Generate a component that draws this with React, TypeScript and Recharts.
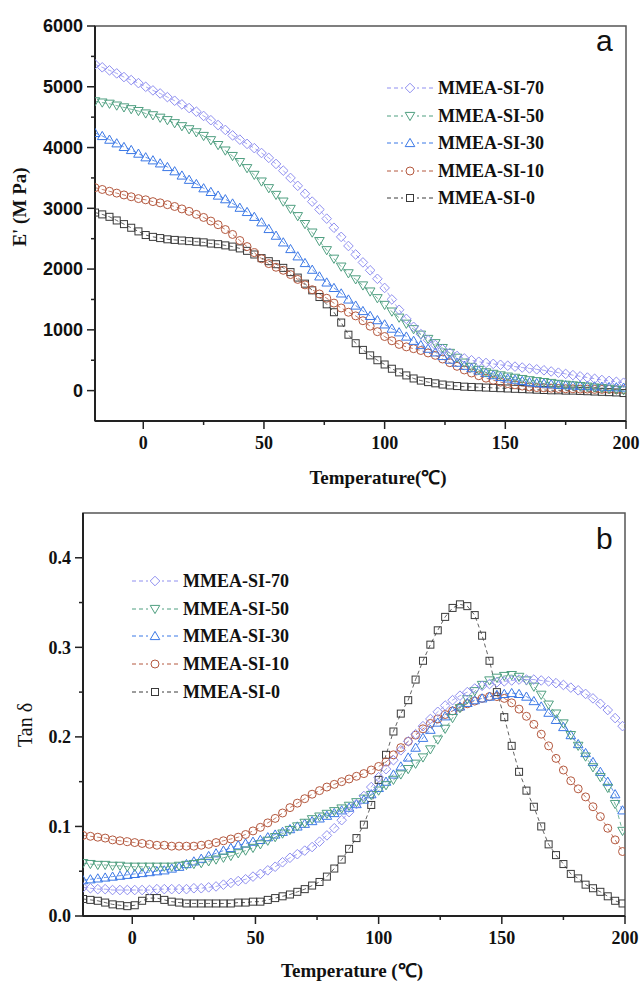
import React from "react";
import { LineChart, Line, XAxis, YAxis, ReferenceArea } from "recharts";

// temperature (°C), shared by both panels
const temps = [
  -20, -17, -14, -11, -8, -5, -2, 1, 4, 7,
  10, 13, 16, 19, 22, 25, 28, 31, 34, 37,
  40, 43, 46, 49, 52, 55, 58, 61, 64, 67,
  70, 73, 76, 79, 82, 85, 88, 91, 94, 97,
  100, 103, 106, 109, 112, 115, 118, 121, 124, 127,
  130, 133, 136, 139, 142, 145, 148, 151, 154, 157,
  160, 163, 166, 169, 172, 175, 178, 181, 184, 187,
  190, 193, 196, 199,
];

// panel a: storage modulus E' (MPa)
const modulus70 = [
  5370, 5320, 5270, 5220, 5160, 5110, 5060, 5000, 4940, 4890,
  4830, 4770, 4710, 4650, 4590, 4520, 4450, 4370, 4290, 4200,
  4130, 4060, 3990, 3910, 3830, 3730, 3620, 3500, 3370, 3240,
  3110, 2980, 2830, 2680, 2530, 2380, 2240, 2110, 1980, 1840,
  1690, 1500, 1330, 1180, 1050, 930, 830, 750, 680, 620,
  570, 530, 500, 475, 455, 440, 425, 410, 395, 380,
  365, 350, 335, 315, 295, 275, 255, 235, 215, 195,
  175, 160, 145, 130,
];
const modulus50 = [
  4760, 4740, 4720, 4690, 4660, 4630, 4600, 4560, 4530, 4490,
  4450, 4400, 4350, 4300, 4250, 4190, 4120, 4040, 3950, 3860,
  3760, 3660, 3550, 3440, 3330, 3220, 3110, 2990, 2870, 2740,
  2600, 2460, 2310, 2170, 2040, 1930, 1830, 1730, 1630, 1520,
  1410, 1300, 1200, 1100, 1010, 920, 850, 780, 700, 620,
  540, 460, 390, 340, 300, 275, 250, 230, 210, 190,
  170, 155, 140, 125, 110, 95, 85, 75, 65, 50,
  40, 30, 15, 5,
];
const modulus30 = [
  4240, 4190, 4130, 4070, 4010, 3960, 3900, 3840, 3790, 3740,
  3680, 3610, 3540, 3470, 3400, 3330, 3270, 3210, 3150, 3080,
  3010, 2940, 2860, 2770, 2660, 2550, 2440, 2330, 2210, 2100,
  1990, 1880, 1780, 1690, 1600, 1500, 1400, 1310, 1230, 1160,
  1090, 1020, 960, 890, 820, 750, 690, 630, 570, 510,
  460, 410, 370, 330, 290, 255, 225, 200, 180, 160,
  140, 125, 115, 105, 95, 90, 85, 80, 75, 70,
  65, 60, 55, 50,
];
const modulus10 = [
  3340, 3310, 3280, 3250, 3220, 3190, 3160, 3140, 3110, 3090,
  3060, 3030, 2990, 2950, 2900, 2850, 2790, 2730, 2650, 2570,
  2470, 2370, 2270, 2170, 2090, 2030, 1980, 1910, 1830, 1740,
  1660, 1590, 1520, 1440, 1360, 1290, 1230, 1150, 1060, 970,
  890, 820, 760, 720, 690, 660, 620, 580, 520, 460,
  400, 340, 290, 245, 205, 170, 140, 115, 95, 75,
  60, 50, 45, 40, 35, 30, 30, 25, 25, 20,
  20, 20, 15, 15,
];
const modulus0 = [
  2930, 2900, 2860, 2800, 2740, 2680, 2620, 2560, 2530, 2510,
  2490, 2480, 2470, 2460, 2450, 2440, 2420, 2410, 2390, 2370,
  2340, 2300, 2240, 2180, 2130, 2080, 2020, 1950, 1860, 1760,
  1650, 1540, 1420, 1290, 1120, 920, 780, 670, 580, 500,
  430, 360, 300, 250, 200, 165, 140, 120, 100, 85,
  75, 65, 60, 55, 50, 45, 40, 35, 30, 25,
  20, 15, 10, 5, 5, 0, 0, -5, -10, -15,
  -20, -25, -30, -40,
];

// panel b: tan delta
const tan70 = [
  0.032, 0.031, 0.030, 0.030, 0.029, 0.029, 0.029, 0.029, 0.029, 0.029,
  0.030, 0.030, 0.030, 0.030, 0.030, 0.031, 0.031, 0.032, 0.033, 0.035,
  0.037, 0.039, 0.041, 0.044, 0.047, 0.051, 0.055, 0.060, 0.065, 0.069,
  0.073, 0.077, 0.083, 0.090, 0.098, 0.107, 0.116, 0.125, 0.134, 0.144,
  0.155, 0.164, 0.174, 0.185, 0.195, 0.203, 0.212, 0.220, 0.228, 0.235,
  0.241, 0.246, 0.250, 0.254, 0.257, 0.259, 0.261, 0.262, 0.263, 0.264,
  0.264, 0.264, 0.263, 0.262, 0.260, 0.258, 0.255, 0.252, 0.248, 0.243,
  0.237, 0.230, 0.221, 0.212,
];
const tan50 = [
  0.059, 0.058, 0.057, 0.057, 0.056, 0.056, 0.055, 0.055, 0.055, 0.055,
  0.055, 0.055, 0.055, 0.056, 0.057, 0.058, 0.059, 0.061, 0.063, 0.065,
  0.067, 0.070, 0.073, 0.076, 0.080, 0.084, 0.088, 0.092, 0.096, 0.100,
  0.104, 0.108, 0.111, 0.114, 0.117, 0.120, 0.123, 0.127, 0.131, 0.135,
  0.140, 0.146, 0.152, 0.158, 0.164, 0.170, 0.177, 0.186, 0.197, 0.209,
  0.221, 0.232, 0.242, 0.251, 0.258, 0.263, 0.266, 0.268, 0.269, 0.267,
  0.263, 0.256, 0.247, 0.236, 0.226, 0.215, 0.202, 0.190, 0.178, 0.166,
  0.155, 0.143, 0.125, 0.095,
];
const tan30 = [
  0.040, 0.041, 0.042, 0.043, 0.044, 0.045, 0.046, 0.047, 0.048, 0.049,
  0.050, 0.051, 0.053, 0.055, 0.058, 0.061, 0.064, 0.067, 0.070, 0.073,
  0.076, 0.079, 0.081, 0.083, 0.085, 0.088, 0.091, 0.094, 0.097, 0.100,
  0.103, 0.106, 0.109, 0.112, 0.115, 0.118, 0.121, 0.125, 0.130, 0.136,
  0.143, 0.150, 0.158, 0.167, 0.177, 0.188, 0.199, 0.208, 0.216, 0.223,
  0.229, 0.234, 0.238, 0.241, 0.243, 0.245, 0.247, 0.248, 0.249, 0.248,
  0.245, 0.240, 0.234, 0.227, 0.219, 0.211, 0.202, 0.192, 0.182, 0.172,
  0.161, 0.150, 0.136, 0.118,
];
const tan10 = [
  0.090, 0.089, 0.088, 0.087, 0.085, 0.084, 0.083, 0.082, 0.081, 0.080,
  0.079, 0.079, 0.078, 0.078, 0.078, 0.078, 0.079, 0.080, 0.082, 0.084,
  0.086, 0.088, 0.091, 0.095, 0.099, 0.104, 0.109, 0.115, 0.121, 0.126,
  0.131, 0.136, 0.140, 0.144, 0.147, 0.150, 0.153, 0.156, 0.159, 0.163,
  0.167, 0.172, 0.180, 0.188, 0.195, 0.202, 0.209, 0.215, 0.220, 0.225,
  0.229, 0.233, 0.237, 0.240, 0.243, 0.245, 0.245, 0.243, 0.238, 0.231,
  0.223, 0.214, 0.203, 0.190, 0.176, 0.163, 0.151, 0.142, 0.133, 0.122,
  0.111, 0.098, 0.085, 0.072,
];
const tan0 = [
  0.019, 0.018, 0.017, 0.015, 0.013, 0.012, 0.011, 0.012, 0.017, 0.020,
  0.020, 0.018, 0.016, 0.015, 0.014, 0.014, 0.014, 0.014, 0.014, 0.014,
  0.014, 0.015, 0.015, 0.016, 0.016, 0.018, 0.020, 0.022, 0.024, 0.027,
  0.030, 0.034, 0.038, 0.044, 0.053, 0.063, 0.075, 0.087, 0.102, 0.124,
  0.152, 0.180, 0.206, 0.226, 0.241, 0.264, 0.285, 0.303, 0.319, 0.334,
  0.344, 0.348, 0.346, 0.336, 0.313, 0.285, 0.250, 0.222, 0.190, 0.161,
  0.140, 0.122, 0.100, 0.080, 0.068, 0.058, 0.047, 0.042, 0.035, 0.031,
  0.027, 0.022, 0.017, 0.014,
];

const xTicks = [0, 25, 50, 75, 100, 125, 150, 175, 200];
const yTicksA = [0, 500, 1000, 1500, 2000, 2500, 3000, 3500, 4000, 4500, 5000, 5500, 6000];
const yTicksB = [0, 0.05, 0.1, 0.15, 0.2, 0.25, 0.3, 0.35, 0.4];

const seriesNames = ["MMEA-SI-70", "MMEA-SI-50", "MMEA-SI-30", "MMEA-SI-10", "MMEA-SI-0"];

const series = [
  { key: "s70", name: seriesNames[0], color: "#8f8ff0", shape: "diamond" },
  { key: "s50", name: seriesNames[1], color: "#4f9f80", shape: "down" },
  { key: "s30", name: seriesNames[2], color: "#3b78e6", shape: "up" },
  { key: "s10", name: seriesNames[3], color: "#b4583e", shape: "circle" },
  { key: "s0", name: seriesNames[4], color: "#3a3a3a", shape: "square" },
];

const dataA = temps.map((t, i) => ({
  t, s70: modulus70[i], s50: modulus50[i], s30: modulus30[i], s10: modulus10[i], s0: modulus0[i],
}));
const dataB = temps.map((t, i) => ({
  t, s70: tan70[i], s50: tan50[i], s30: tan30[i], s10: tan10[i], s0: tan0[i],
}));

const SERIF = "'Liberation Serif', 'Times New Roman', serif";
const SANS = "'Liberation Sans', Arial, sans-serif";

function marker(shape: string, cx: number, cy: number, color: string) {
  const common = { fill: "none", stroke: color, strokeWidth: 1 };
  if (shape === "diamond")
    return <path d={`M${cx},${cy - 4.8}L${cx + 4.8},${cy}L${cx},${cy + 4.8}L${cx - 4.8},${cy}Z`} {...common} />;
  if (shape === "up")
    return <path d={`M${cx},${cy - 4.6}L${cx + 4.8},${cy + 3.6}L${cx - 4.8},${cy + 3.6}Z`} {...common} />;
  if (shape === "down")
    return <path d={`M${cx},${cy + 4.6}L${cx + 4.8},${cy - 3.6}L${cx - 4.8},${cy - 3.6}Z`} {...common} />;
  if (shape === "circle") return <circle cx={cx} cy={cy} r={4} {...common} />;
  return <rect x={cx - 3.5} y={cy - 3.5} width={7} height={7} {...common} />;
}

const makeDot = (shape: string, color: string) => (p: any) => {
  if (p.cx == null || p.cy == null) return <g key={p.key} />;
  return <g key={p.key}>{marker(shape, p.cx, p.cy, color)}</g>;
};

function YTick(props: any) {
  const { x, y, payload, major, fmt, font } = props;
  const v = payload.value;
  const isMajor = major(v);
  return (
    <g>
      <line x1={x} x2={x - (isMajor ? 8 : 4)} y1={y} y2={y} stroke="#222" strokeWidth={1.5} />
      {isMajor && (
        <text x={x - 12} y={y} dy="0.35em" textAnchor="end" fontFamily={font} fontWeight="bold" fontSize={18} fill="#111">
          {fmt(v)}
        </text>
      )}
    </g>
  );
}

function XTick(props: any) {
  const { x, y, payload } = props;
  const v = payload.value;
  const isMajor = v % 50 === 0;
  return (
    <g>
      <line x1={x} x2={x} y1={y} y2={y + (isMajor ? 8 : 4)} stroke="#222" strokeWidth={1.5} />
      {isMajor && (
        <text x={x} y={y + 22} dy="0.35em" textAnchor="middle" fontFamily={SERIF} fontWeight="bold" fontSize={18} fill="#111">
          {v}
        </text>
      )}
    </g>
  );
}

function LegendBox({ left, top, gap }: { left: number; top: number; gap: number }) {
  return (
    <div style={{ position: "absolute", left, top }}>
      {series.map((s, i) => (
        <div key={s.key} style={{ position: "absolute", top: i * gap, left: 0, display: "flex", alignItems: "center", whiteSpace: "nowrap" }}>
          <svg width={48} height={14} style={{ marginRight: 4 }}>
            <line x1={1} x2={47} y1={7} y2={7} stroke={s.color} strokeWidth={1} strokeDasharray="4 3" />
            <rect x={17} y={1} width={14} height={12} fill="#fff" />
            {marker(s.shape, 24, 7, s.color)}
          </svg>
          <span style={{ fontFamily: SERIF, fontWeight: "bold", fontSize: 18, color: "#111", lineHeight: "14px" }}>{s.name}</span>
        </div>
      ))}
    </div>
  );
}

function Panel({ data, yDomain, yTicks, major, fmt, yFont, yWidth, marginTop, xHeight, rightMargin }: any) {
  return (
    <LineChart width={642} height={492} data={data} margin={{ top: marginTop, right: rightMargin, left: 0, bottom: 0 }}>
      <ReferenceArea x1={-20} x2={200} y1={yDomain[0]} y2={yDomain[1]} fill="none" stroke="#555" strokeWidth={1.5} ifOverflow="visible" />
      <XAxis
        type="number"
        dataKey="t"
        domain={[-20, 200]}
        ticks={xTicks}
        interval={0}
        allowDataOverflow
        height={xHeight}
        tickSize={0}
        tickMargin={0}
        tickLine={false}
        axisLine={{ stroke: "#222", strokeWidth: 2 }}
        tick={(p: any) => <XTick {...p} />}
      />
      <YAxis
        type="number"
        domain={yDomain}
        ticks={yTicks}
        interval={0}
        allowDataOverflow
        width={yWidth}
        tickSize={0}
        tickMargin={0}
        tickLine={false}
        axisLine={{ stroke: "#222", strokeWidth: 2 }}
        tick={(p: any) => <YTick {...p} major={major} fmt={fmt} font={yFont} />}
      />
      {series.slice().reverse().map((s) => (
        <Line
          key={s.key}
          type="linear"
          dataKey={s.key}
          name={s.name}
          stroke={s.color}
          strokeWidth={0.8}
          strokeDasharray="4 3"
          dot={makeDot(s.shape, s.color)}
          activeDot={false}
          isAnimationActive={false}
        />
      ))}
    </LineChart>
  );
}

export default function App() {
  return (
    <div style={{ position: "absolute", left: 0, top: 0, width: 642, height: 984, background: "#fff", overflow: "hidden" }}>
      <div style={{ position: "absolute", left: 0, top: 0 }}>
        <Panel
          data={dataA}
          yDomain={[-500, 6000]}
          yTicks={yTicksA}
          major={(v: number) => v % 1000 === 0}
          fmt={(v: number) => String(v)}
          yFont={SANS}
          yWidth={95}
          marginTop={26}
          xHeight={71}
          rightMargin={16}
        />
      </div>
      <div style={{ position: "absolute", left: 0, top: 492 }}>
        <Panel
          data={dataB}
          yDomain={[0, 0.45]}
          yTicks={yTicksB}
          major={(v: number) => Math.abs(v * 10 - Math.round(v * 10)) < 1e-6}
          fmt={(v: number) => v.toFixed(1)}
          yFont={SERIF}
          yWidth={83}
          marginTop={21}
          xHeight={68}
          rightMargin={17}
        />
      </div>

      <LegendBox left={386} top={81} gap={27.5} />
      <LegendBox left={131} top={574} gap={27.7} />

      <div style={{ position: "absolute", left: 596, top: 26, fontFamily: SANS, fontSize: 30, lineHeight: "30px", color: "#111" }}>a</div>
      <div style={{ position: "absolute", left: 596, top: 524, fontFamily: SANS, fontSize: 30, lineHeight: "30px", color: "#111" }}>b</div>

      <div style={{ position: "absolute", left: 20, top: 207, transform: "translate(-50%, -50%) rotate(-90deg)", fontFamily: SERIF, fontWeight: "bold", fontSize: 19, whiteSpace: "nowrap", color: "#111" }}>
        E' (M Pa)
      </div>
      <div style={{ position: "absolute", left: 378, top: 477, transform: "translate(-50%, -50%)", fontFamily: SERIF, fontWeight: "bold", fontSize: 19, whiteSpace: "nowrap", color: "#111" }}>
        Temperature(℃)
      </div>
      <div style={{ position: "absolute", left: 25, top: 725, transform: "translate(-50%, -50%) rotate(-90deg)", fontFamily: SERIF, fontSize: 20, whiteSpace: "nowrap", color: "#111" }}>
        Tan δ
      </div>
      <div style={{ position: "absolute", left: 352, top: 970, transform: "translate(-50%, -50%)", fontFamily: SERIF, fontWeight: "bold", fontSize: 19, whiteSpace: "nowrap", color: "#111" }}>
        Temperature (℃)
      </div>
    </div>
  );
}
